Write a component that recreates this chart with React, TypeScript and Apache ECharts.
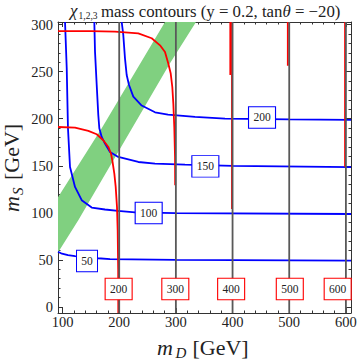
import React, { useEffect, useRef } from "react";
import * as echarts from "echarts";

const SERIF = "'Liberation Serif', 'Times New Roman', serif";
const BLUE = "#0000ff";
const RED = "#ff0000";
const GRAY = "#595959";
const GREEN = "#80d080";
const FRAME = "#333333";
const INK = "#222222";

// axis ranges and ticks
const xRange = [92, 609];
const yRange = [-6.5, 302.8];
const xMajor = [100, 200, 300, 400, 500, 600];
const xMinor = [100, 120, 140, 160, 180, 200, 220, 240, 260, 280, 300, 320, 340, 360, 380, 400, 420, 440, 460, 480, 500, 520, 540, 560, 580, 600];
const yMajor = [0, 50, 100, 150, 200, 250, 300];
const yMinor = [0, 10, 20, 30, 40, 50, 60, 70, 80, 90, 100, 110, 120, 130, 140, 150, 160, 170, 180, 190, 200, 210, 220, 230, 240, 250, 260, 270, 280, 290, 300];

// charged-state mass contours (m = m_D)
const grayLevels = [200, 300, 400, 500, 600];

// lightest neutral mass contours (blue)
const blue50 = [[92, 58.6], [99, 56.5], [109.6, 54.9], [122, 53.9], [162.6, 51.7], [183.8, 50.7], [300, 50], [609, 49.2]];
const blue100 = [[104.4, 302.8], [107.4, 253.6], [109.6, 189.9], [113.2, 148.7], [122, 127.5], [133.8, 113.4], [151.5, 105.6], [174.9, 103.5], [197.9, 102], [227.9, 100.4], [300, 99.7], [609, 98.7]];
const blue150 = [[156.1, 302.8], [157.3, 271.3], [160.3, 235.9], [163.1, 204], [164.9, 189.9], [169.1, 180.6], [174.9, 173.6], [183.8, 164.7], [198.4, 159.4], [233.7, 154], [263.2, 152.3], [316.1, 151.1], [400, 149.8], [609, 148.6]];
const blue200 = [[204.4, 302.8], [207.2, 289], [210.2, 264.2], [213.2, 246.5], [217.3, 235.9], [224.9, 223.5], [239.7, 214], [263.2, 206.8], [286.1, 204.4], [333.8, 201.9], [386.7, 200], [500, 199.2], [609, 198.8]];

// heavier neutral mass contours (red)
const red200 = [[92, 191.2], [122, 190.6], [145.5, 187], [160.3, 183.5], [171.9, 177.1], [180.8, 170], [185.5, 163], [187.8, 155.9], [191.4, 141.7], [193.8, 127.5], [196.1, 106.2], [197.3, 81.5], [198.2, 40], [198.4, -6.5]];
const red300 = [[92, 293.2], [150, 293], [192.6, 292.6], [233.7, 290.8], [257.3, 285.5], [272, 278], [280.8, 270.9], [286.6, 258.6], [290.9, 248], [293.7, 233.7], [295.5, 216.1], [297.2, 191.2], [298.5, 159.4], [298.8, 129.3]];
const red400a = [[396, 302.8], [396, 246.5]];
const red400b = [[399, 302.8], [399, 104]];
const red500 = [[497.5, 302.8], [497.5, 256.3]];
const red600 = [[598.5, 302.8], [598.5, 148.6]];

// green band region (m_S vs m_D)
const bandPolygon = [[92, 116.4], [169.1, 189.9], [280.8, 302.8], [335.5, 302.8], [289.6, 258.9], [230.9, 198.4], [127.8, 92.1], [92, 57.9]];

// contour labels
const blueLabelX = [143.2, 252, 352, 452];
const blueLabelY = [48.8, 99.8, 149.3, 201.3];
const blueLabelText = ["50", "100", "150", "200"];
const redLabelX = [199, 299, 397.5, 501, 585.5];
const redLabelY = [19, 19, 19, 19, 19];
const redLabelText = ["200", "300", "400", "500", "600"];

function lineSeries(data: number[][], color: string, z: number) {
  return {
    type: "line",
    data,
    symbol: "none",
    showSymbol: false,
    silent: true,
    clip: true,
    z,
    lineStyle: { color, width: 1.8 },
  };
}

function labelSeries(xs: number[], ys: number[], texts: string[], color: string) {
  return {
    type: "scatter",
    symbol: "rect",
    silent: true,
    z: 20,
    data: xs.map((x, i) => ({
      value: [x, ys[i], texts[i]],
      symbolSize: [texts[i].length > 2 ? 27 : 21, 21.5],
    })),
    itemStyle: { color: "#ffffff", borderColor: color, borderWidth: 1, opacity: 1 },
    label: {
      show: true,
      position: "inside",
      formatter: (p: any) => p.value[2],
      color: INK,
      fontFamily: SERIF,
      fontSize: 11.5,
    },
  };
}

function xAxis(position: string, ticks: number[], len: number, labels: boolean, line: boolean) {
  return {
    type: "value",
    min: xRange[0],
    max: xRange[1],
    position,
    axisLine: { show: line, onZero: false, lineStyle: { color: FRAME, width: 1 } },
    axisTick: { show: true, inside: true, length: len, customValues: ticks, lineStyle: { color: FRAME, width: 1 } },
    axisLabel: {
      show: labels,
      customValues: labels ? xMajor : ticks,
      color: INK,
      fontFamily: SERIF,
      fontSize: 14.5,
      margin: 1,
    },
    splitLine: { show: false },
  };
}

function yAxis(position: string, ticks: number[], len: number, labels: boolean, line: boolean) {
  return {
    type: "value",
    min: yRange[0],
    max: yRange[1],
    position,
    axisLine: { show: line, onZero: false, lineStyle: { color: FRAME, width: 1 } },
    axisTick: { show: true, inside: true, length: len, customValues: ticks, lineStyle: { color: FRAME, width: 1 } },
    axisLabel: {
      show: labels,
      customValues: labels ? yMajor : ticks,
      color: INK,
      fontFamily: SERIF,
      fontSize: 14.5,
      margin: 5,
    },
    splitLine: { show: false },
  };
}

const mid = (baseline: number, fs: number) => baseline - 0.3375 * fs;

export default function App() {
  const ref = useRef<HTMLDivElement>(null);
  useEffect(() => {
    if (!ref.current) return;
    const chart = echarts.init(ref.current, null, { renderer: "svg" });
    const option: any = {
      animation: false,
      backgroundColor: "#ffffff",
      grid: { left: 58, top: 22, width: 293, height: 291, containLabel: false },
      xAxis: [
        xAxis("bottom", xMajor, 5, true, true),
        xAxis("bottom", xMinor, 2.5, false, false),
        xAxis("top", xMajor, 5, false, true),
        xAxis("top", xMinor, 2.5, false, false),
      ],
      yAxis: [
        yAxis("left", yMajor, 5, true, true),
        yAxis("left", yMinor, 2.5, false, false),
        yAxis("right", yMajor, 5, false, true),
        yAxis("right", yMinor, 2.5, false, false),
      ],
      series: [
        {
          type: "custom",
          silent: true,
          clip: true,
          z: 1,
          data: [bandPolygon[0]],
          renderItem: (_params: any, api: any) => ({
            type: "polygon",
            shape: { points: bandPolygon.map((p) => api.coord(p)) },
            style: { fill: GREEN },
          }),
        },
        lineSeries(blue50, BLUE, 3),
        lineSeries(blue100, BLUE, 3),
        lineSeries(blue150, BLUE, 3),
        lineSeries(blue200, BLUE, 3),
        lineSeries(red200, RED, 4),
        lineSeries(red300, RED, 4),
        lineSeries(red400a, RED, 4),
        lineSeries(red400b, RED, 4),
        lineSeries(red500, RED, 4),
        lineSeries(red600, RED, 4),
        ...grayLevels.map((v) => lineSeries([[v, yRange[0]], [v, yRange[1]]], GRAY, 5)),
        labelSeries(blueLabelX, blueLabelY, blueLabelText, BLUE),
        labelSeries(redLabelX, redLabelY, redLabelText, RED),
      ],
      graphic: [
        // title
        { type: "text", x: 70, y: mid(16.7, 17), style: { text: "χ", fontSize: 17, fontFamily: SERIF, fontStyle: "italic", fill: INK, verticalAlign: "middle" } },
        { type: "text", x: 78.5, y: mid(19, 9.5), style: { text: "1,2,3", fontSize: 9.5, fontFamily: SERIF, fill: INK, verticalAlign: "middle" } },
        {
          type: "text",
          x: 101,
          y: mid(16.7, 16.8),
          style: {
            text: "{a|mass contours (y = 0.2, tan}{b|θ}{a| = −20)}",
            verticalAlign: "middle",
            rich: {
              a: { fontSize: 16.8, fontFamily: SERIF, fill: INK },
              b: { fontSize: 16.8, fontFamily: SERIF, fontStyle: "italic", fill: INK },
            },
          },
        },
        // x title
        { type: "text", x: 157, y: mid(354.5, 22), style: { text: "m", fontSize: 22, fontFamily: SERIF, fontStyle: "italic", fill: INK, verticalAlign: "middle" } },
        { type: "text", x: 175.5, y: mid(358.5, 15), style: { text: "D", fontSize: 15, fontFamily: SERIF, fontStyle: "italic", fill: INK, verticalAlign: "middle" } },
        { type: "text", x: 192.5, y: mid(354.5, 22), style: { text: "[GeV]", fontSize: 22, fontFamily: SERIF, fill: INK, verticalAlign: "middle" } },
        // y title
        {
          type: "group",
          x: 19,
          y: 212,
          rotation: Math.PI / 2,
          children: [
            { type: "text", x: 0, y: mid(0, 22), style: { text: "m", fontSize: 22, fontFamily: SERIF, fontStyle: "italic", fill: INK, verticalAlign: "middle" } },
            { type: "text", x: 17, y: mid(4, 15), style: { text: "S", fontSize: 15, fontFamily: SERIF, fontStyle: "italic", fill: INK, verticalAlign: "middle" } },
            { type: "text", x: 32, y: mid(0, 22), style: { text: "[GeV]", fontSize: 22, fontFamily: SERIF, fill: INK, verticalAlign: "middle" } },
          ],
        },
      ],
    };
    chart.setOption(option);
    return () => chart.dispose();
  }, []);
  return <div ref={ref} style={{ position: "fixed", left: 0, top: 0, width: 360, height: 363 }} />;
}
